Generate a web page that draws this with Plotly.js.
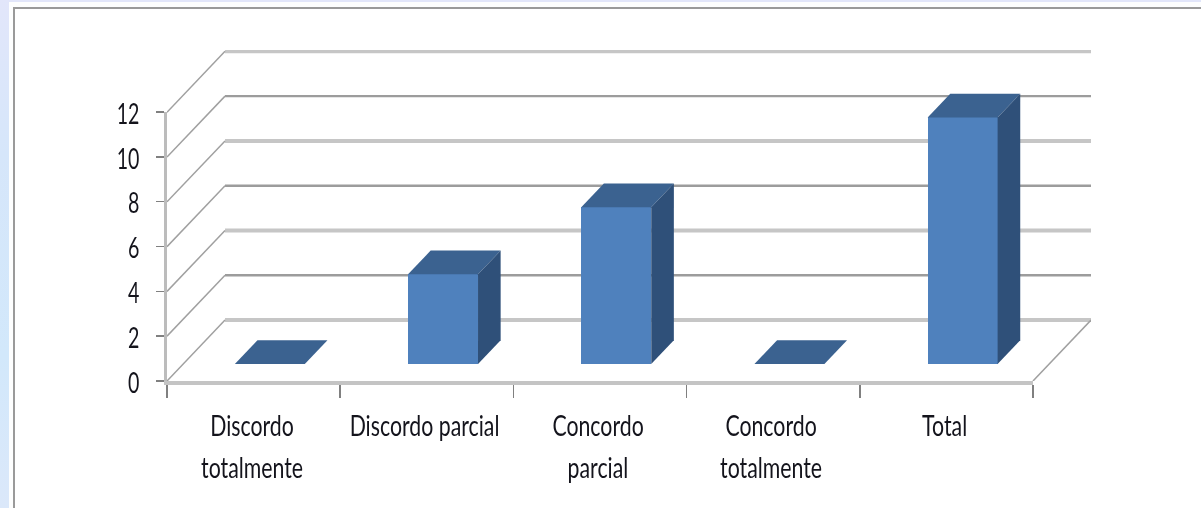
<!DOCTYPE html>
<html><head><meta charset="utf-8">
<script src="https://cdn.plot.ly/plotly-3.0.1.min.js"></script>
<style>
html,body{margin:0;padding:0;width:1201px;height:508px;overflow:hidden;background:linear-gradient(180deg,#e2e6fa 0,#d6e6fa 30%,#d2e8fb 70%,#dbe8fa 100%);}
#sheet{position:absolute;left:9px;top:2px;width:1192px;height:506px;background:#fdfefe;}
#frame{position:absolute;left:13px;top:7px;width:1190px;height:510px;border:2px solid #9a9a9a;box-sizing:border-box;background:#fff;filter:blur(.6px);}
#chart{position:absolute;left:0;top:0;width:1201px;height:508px;filter:blur(.7px);}
</style></head>
<body>
<div id="sheet"></div><div id="frame"></div><div id="chart"></div>
<script>
const categories = ['Discordo totalmente','Discordo parcial','Concordo parcial','Concordo totalmente','Total'];
const labelLine1 = ['Discordo','Discordo parcial','Concordo','Concordo','Total'];
const labelLine2 = ['totalmente','','parcial','totalmente',''];
const values = [0,4,7,0,11];
const yTicks = [0,2,4,6,8,10,12];
const xTickEdges = [0,1,2,3,4,5];

// 3D look: depth is a shift in data units of the front axes
const depthX = 0.335, depthY = 2.72;
const barFront = 0.28, barBack = 0.67, barW = 0.404;
const centers = values.map((_, i) => i + 0.5);
const proj = (x, v, d) => [x + d * depthX, v + d * depthY];

function poly(points, color, name) {
  return {type:'scatter', mode:'none', xaxis:'x3', yaxis:'y3', cliponaxis:false, fill:'toself',
    fillcolor:color, hoverinfo:'skip', showlegend:false, name:name,
    x:points.map(p=>p[0]), y:points.map(p=>p[1])};
}
function lines(segments, color, width) {
  const x=[], y=[];
  segments.forEach(s=>{ s.forEach(p=>{x.push(p[0]);y.push(p[1]);}); x.push(null); y.push(null); });
  return {type:'scatter', mode:'lines', xaxis:'x', yaxis:'y', cliponaxis:false,
    line:{color:color,width:width}, hoverinfo:'skip', showlegend:false, x:x, y:y};
}
const back = v => [proj(0,v,1), proj(5,v,1)];
const traces = [
  lines(yTicks.filter(v=>v%4===0).map(back), '#c6c6c6', 4),
  lines(yTicks.filter(v=>v%4!==0).map(back), '#9c9c9c', 2.4),
  lines(yTicks.map(v=>[proj(0,v,0), proj(0,v,1)]).concat([[proj(5,0,0), proj(5,0,1)]]), '#a0a0a0', 1.5),
  {type:'bar', xaxis:'x2', yaxis:'y2', x:centers.map(c=>c+barFront*depthX), y:values,
    base:values.map(()=>barFront*depthY), width:barW, marker:{color:'#4f81bd', line:{width:0}},
    showlegend:false, name:'Valores'}
];
values.forEach((v,i)=>{
  const l = centers[i]-barW/2, r = centers[i]+barW/2;
  traces.push(poly([proj(l,v,barFront),proj(r,v,barFront),proj(r,v,barBack),proj(l,v,barBack),proj(l,v,barFront)],'#3b6290','top'));
  if (v>0) traces.push(poly([proj(r,0,barFront),proj(r,v,barFront),proj(r,v,barBack),proj(r,0,barBack),proj(r,0,barFront)],'#2f5079','side'));
});

const annotations = [];
const labelFont = {family:'Lato,"Liberation Sans",sans-serif', size:28, color:'#14141c'};
centers.forEach((c,i)=>{
  annotations.push({xref:'x2',yref:'paper',x:c,y:-0.133,xshift:-2,text:labelLine1[i],showarrow:false,font:labelFont,yanchor:'middle'});
  if(labelLine2[i]) annotations.push({xref:'x2',yref:'paper',x:c,y:-0.26,xshift:-2,text:labelLine2[i],showarrow:false,font:labelFont,yanchor:'middle'});
});

const layout = {
  width:1201, height:508, margin:{l:167,r:110,t:50,b:127,pad:0},
  paper_bgcolor:'rgba(0,0,0,0)', plot_bgcolor:'rgba(0,0,0,0)', showlegend:false, bargap:0,
  xaxis:{visible:false, domain:[0,1], range:[0,5+depthX], fixedrange:true},
  yaxis:{visible:false, domain:[0,1], range:[0,14.78], fixedrange:true},
  xaxis3:{visible:false, anchor:'y3', domain:[0,1], range:[0,5+depthX], fixedrange:true},
  yaxis3:{visible:false, anchor:'x3', domain:[0,1], range:[0,14.78], fixedrange:true},
  xaxis2:{anchor:'y2', domain:[0,866/924], range:[0,5], showgrid:false, zeroline:false, showline:true, linecolor:'#c4c4c4', linewidth:4,
    tickmode:'array', tickvals:xTickEdges, ticktext:xTickEdges.map(()=>''), ticks:'outside', ticklen:13, tickwidth:1.5, tickcolor:'#808080'},
  yaxis2:{anchor:'x2', domain:[0,269/331], range:[0,12], showgrid:false, zeroline:false, showline:true, linecolor:'#bcbcbc', linewidth:3,
    tickmode:'array', tickvals:yTicks, ticks:'outside', ticklen:8, tickwidth:1.5, tickcolor:'#808080', ticklabelstandoff:11,
    tickfont:labelFont},
  annotations:annotations
};
Plotly.newPlot('chart', traces, layout, {displayModeBar:false, staticPlot:true}).then(()=>{
  // the original labels use a condensed face: squeeze the real text horizontally
  const squeeze = (t, k) => {
    t.setAttribute('textLength', (t.getComputedTextLength()*k).toFixed(1));
    t.setAttribute('lengthAdjust','spacingAndGlyphs');
  };
  document.querySelectorAll('#chart .annotation-text').forEach(t=>squeeze(t, 0.76));
  document.querySelectorAll('#chart .y2tick text').forEach(t=>{
    squeeze(t, 0.7);
    t.setAttribute('y', parseFloat(t.getAttribute('y')) + 2);
  });
});
</script>
</body></html>
